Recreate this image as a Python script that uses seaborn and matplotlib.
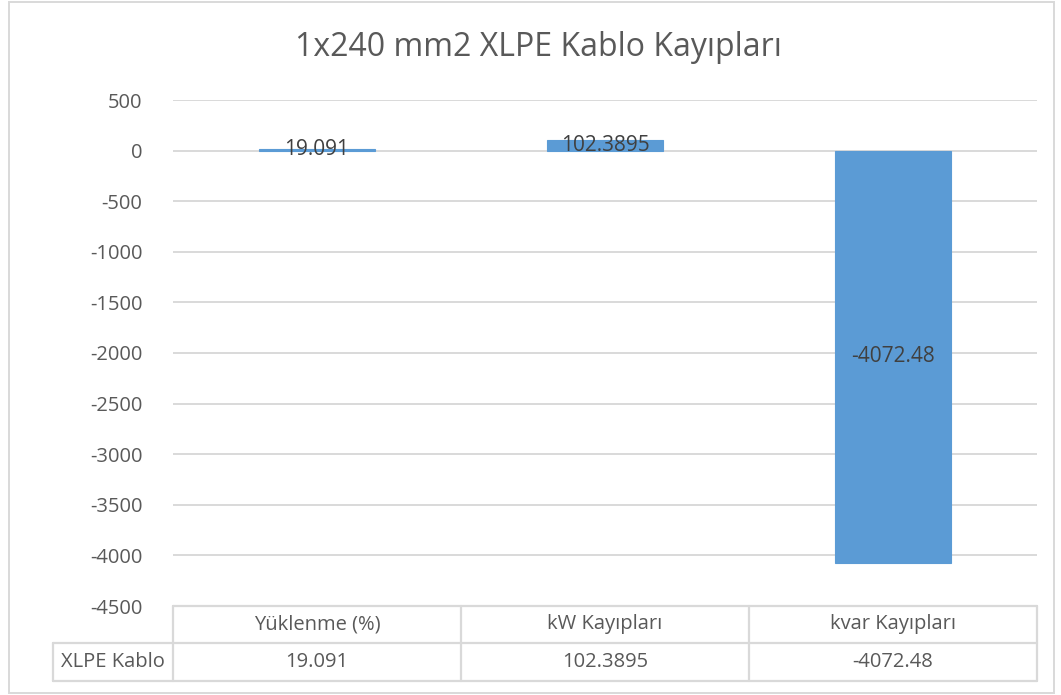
"""
1x240 mm2 XLPE cable losses - Excel style column chart with data table.
"""

import matplotlib.pyplot as plt
import matplotlib.transforms as mtransforms
from matplotlib.patches import Rectangle
import pandas as pd
import seaborn as sns

# -----------------------------------------------------------------------------
# Data
# -----------------------------------------------------------------------------
CATEGORIES = ["Yüklenme (%)", "kW Kayıpları", "kvar Kayıpları"]
VALUES = [19.091, 102.3895, -4072.48]
SERIES_NAME = "XLPE Kablo"
TITLE = "1x240 mm2 XLPE Kablo Kayıpları"
Y_TICKS = [500, 0, -500, -1000, -1500, -2000, -2500, -3000, -3500, -4000, -4500]

BAR_COLOR = "#5B9BD5"
TEXT_COLOR = "#595959"
LABEL_COLOR = "#404040"
GRID_COLOR = "#D9D9D9"

W, H = 1061, 695

sns.set_style("white")
plt.rcParams["font.family"] = ["Open Sans", "DejaVu Sans"]

fig = plt.figure(figsize=(W / 100, H / 100), dpi=100)
# plot area in pixels: left 173, right 1037, top 100, bottom 606
ax = fig.add_axes([173 / W, 1 - 606 / H, (1037 - 173) / W, (606 - 100) / H])

df = pd.DataFrame({"cat": CATEGORIES, "val": VALUES})
sns.barplot(data=df, x="cat", y="val", color=BAR_COLOR, width=0.4,
            saturation=1, edgecolor=BAR_COLOR, linewidth=0.8, ax=ax, zorder=3)

ax.bar_label(ax.containers[0], labels=[str(v) for v in VALUES],
             label_type="center", fontsize=15, color=LABEL_COLOR, zorder=4)

ax.set_xlim(-0.5, len(CATEGORIES) - 0.5)
ax.set_ylim(min(Y_TICKS), max(Y_TICKS))
ax.set_yticks(Y_TICKS)
ax.set_yticklabels([str(t) for t in Y_TICKS])
ax.tick_params(axis="y", length=0, pad=22, labelsize=14.5, labelcolor=TEXT_COLOR)
ax.set_xticks([])
ax.set_xlabel("")
ax.set_ylabel("")
for s in ax.spines.values():
    s.set_visible(False)
ax.yaxis.grid(True, color=GRID_COLOR, linewidth=1.4, zorder=0)
ax.set_axisbelow(True)

# -----------------------------------------------------------------------------
# Data table under the plot area (x in data coords, y in axes coords)
# -----------------------------------------------------------------------------
trans = mtransforms.blended_transform_factory(ax.transData, ax.transAxes)
ax_h = 606 - 100
r1 = -(643 - 606) / ax_h
r2 = -(681 - 606) / ax_h
x_left = -0.5
x_right = len(CATEGORIES) - 0.5
x_label = -0.5 - (173 - 53) / ((1037 - 173) / len(CATEGORIES))

line_kw = dict(color=GRID_COLOR, linewidth=1.6, clip_on=False, transform=trans)
ax.plot([x_left, x_right], [0, 0], **line_kw)
ax.plot([x_label, x_right], [r1, r1], **line_kw)
ax.plot([x_label, x_right], [r2, r2], **line_kw)
for i in range(len(CATEGORIES) + 1):
    ax.plot([i - 0.5, i - 0.5], [0, r2], **line_kw)
ax.plot([x_label, x_label], [r1, r2], **line_kw)

for i, (cat, val) in enumerate(zip(CATEGORIES, VALUES)):
    ax.text(i, r1 / 2, cat, transform=trans, ha="center", va="center",
            fontsize=14.5, color=TEXT_COLOR)
    ax.text(i, (r1 + r2) / 2, str(val), transform=trans, ha="center",
            va="center", fontsize=14.5, color=TEXT_COLOR)
ax.text((x_label + x_left) / 2, (r1 + r2) / 2, SERIES_NAME, transform=trans,
        ha="center", va="center", fontsize=14.5, color=TEXT_COLOR)

# -----------------------------------------------------------------------------
# Title and chart border
# -----------------------------------------------------------------------------
fig.text(538 / W, 1 - 47 / H, TITLE, ha="center", va="center",
         fontsize=23, color=TEXT_COLOR)
fig.patches.append(Rectangle((9 / W, 1 - 693 / H), (1054 - 9) / W, (693 - 2) / H,
                             transform=fig.transFigure, fill=False,
                             edgecolor=GRID_COLOR, linewidth=1.4))

fig.savefig("out.png", dpi=100)
plt.close(fig)
